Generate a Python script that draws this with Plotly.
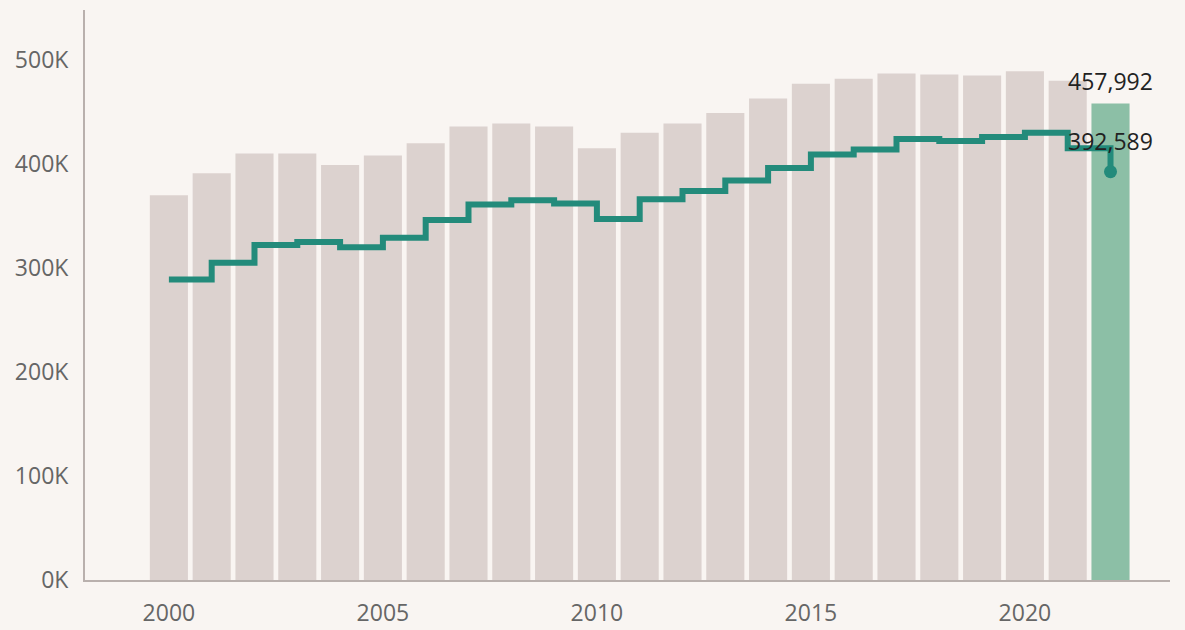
import plotly.graph_objects as go

years = list(range(2000, 2023))
bar_values = [370000, 391000, 410000, 410000, 399000, 408000, 420000, 436000, 439000, 436000,
              415000, 430000, 439000, 449000, 463000, 477000, 482000, 487000, 486000, 485000,
              489000, 480000, 457992]
line_values = [289000, 305000, 322000, 325000, 320000, 329000, 346000, 361000, 365000, 362000,
               347000, 366000, 374000, 384000, 396000, 409000, 414000, 424000, 422000, 426000,
               430000, 415000, 392589]
y_tick_vals = [0, 100000, 200000, 300000, 400000, 500000]
y_tick_text = ["0K", "100K", "200K", "300K", "400K", "500K"]
x_tick_vals = [2000, 2005, 2010, 2015, 2020]

BG = "#F9F5F2"
BAR = "#DCD2CF"
BAR_LAST = "#8CBFA6"
LINE = "#238B7B"
FONT = "Open Sans"

bar_colors = [BAR] * (len(years) - 1) + [BAR_LAST]

fig = go.Figure()
fig.add_trace(go.Bar(
    x=years, y=bar_values, marker=dict(color=bar_colors, line=dict(width=0)),
    hoverinfo="x+y", showlegend=False,
))
fig.add_trace(go.Scatter(
    x=years, y=line_values, mode="lines", line=dict(color=LINE, width=6, shape="hv"),
    showlegend=False,
))
fig.add_trace(go.Scatter(
    x=[years[-1]], y=[line_values[-1]], mode="markers",
    marker=dict(color=LINE, size=13), showlegend=False,
))

fig.add_annotation(x=years[-1], y=bar_values[-1], text=f"{bar_values[-1]:,}", showarrow=False,
                   yshift=23, font=dict(family=FONT, size=23, color="#222222"))
fig.add_annotation(x=years[-1], y=line_values[-1], text=f"{line_values[-1]:,}", showarrow=False,
                   yshift=31, font=dict(family=FONT, size=23, color="#222222"))

fig.update_layout(
    width=1185, height=630,
    paper_bgcolor=BG, plot_bgcolor=BG,
    margin=dict(l=85, r=15, t=10, b=50),
    bargap=0.11,
    font=dict(family=FONT, size=23, color="#666666"),
    xaxis=dict(range=[1998.04, 2023.39], tickvals=x_tick_vals, showgrid=False, automargin=False,
               showline=True, linecolor="#B9B0AD", linewidth=2, ticks="", zeroline=False,
               ticklabelstandoff=11, tickfont=dict(size=23, color="#666666")),
    yaxis=dict(range=[0, 548000], tickvals=y_tick_vals, ticktext=y_tick_text, showgrid=False,
               automargin=False,
               showline=True, linecolor="#B9B0AD", linewidth=2, ticks="", zeroline=False,
               ticklabelstandoff=10, tickfont=dict(size=23, color="#666666")),
)

fig.write_html("out.html", config={"displayModeBar": False},
               post_script="document.body.style.margin='0';document.body.style.background='#F9F5F2';")
